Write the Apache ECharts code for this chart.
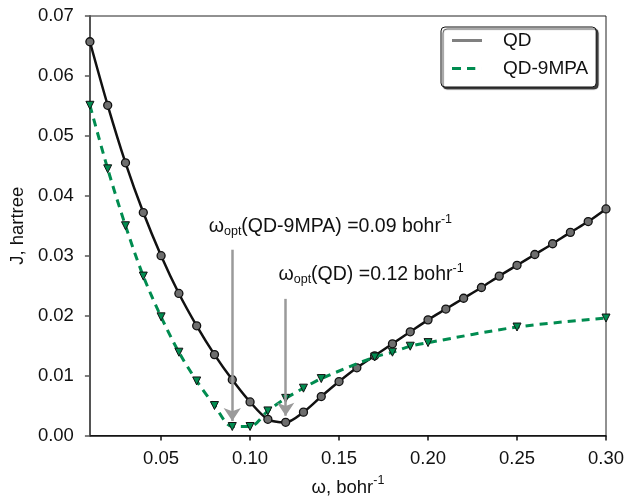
<!DOCTYPE html>
<html><head><meta charset="utf-8">
<script src="https://cdn.jsdelivr.net/npm/echarts@6/dist/echarts.min.js"></script>
<style>html,body{margin:0;padding:0;background:#fff}#c{width:629px;height:502px}</style>
</head><body><div id="c"></div>
<script>
// ---- data ----
const qdX = [0.01,0.02,0.03,0.04,0.05,0.06,0.07,0.08,0.09,0.10,0.11,0.12,0.13,0.14,0.15,0.16,0.17,0.18,0.19,0.20,0.21,0.22,0.23,0.24,0.25,0.26,0.27,0.28,0.29,0.30];
const qdY = [0.0657,0.0551,0.0455,0.0372,0.0300,0.0237,0.0183,0.0135,0.0093,0.0056,0.0027,0.0022,0.0039,0.0065,0.0090,0.0113,0.0133,0.0153,0.0173,0.0193,0.0211,0.0229,0.0247,0.0266,0.0284,0.0302,0.0320,0.0339,0.0357,0.0378];
const mpaX = [0.01,0.02,0.03,0.04,0.05,0.06,0.07,0.08,0.09,0.10,0.11,0.12,0.13,0.14,0.17,0.18,0.19,0.20,0.25,0.30];
const mpaY = [0.0551,0.0445,0.0350,0.0266,0.0198,0.0139,0.0091,0.0050,0.0015,0.0015,0.0041,0.0062,0.0079,0.0095,0.0131,0.0139,0.0149,0.0155,0.0181,0.0196];
const seriesNames = ['QD','QD-9MPA'];
const xTicks = [0.05,0.10,0.15,0.20,0.25,0.30];
const arrowX = [0.09,0.12];
const arrowFrom = [0.0310,0.0228];
const arrowTo = [0.0024,0.0033];
const noteX = [0.0765,0.1157];
const noteY = [0.0349,0.0268];
const noteText = ['{w|ω}{sub|opt}{w|(QD-9MPA) =0.09 bohr}{sup|-1}','{w|ω}{sub|opt}{w|(QD) =0.12 bohr}{sup|-1}'];

// ---- chart ----
const FONT = '"Liberation Sans", Arial, sans-serif';
const GREEN = '#008C50';
const INK = '#111';
const pair = (xs, ys) => xs.map((x, i) => [x, ys[i]]);
const rich = (main) => ({
  w:{fontSize:main, fontFamily:FONT, color:INK},
  sub:{fontSize:12.5, fontFamily:FONT, color:INK, padding:[10,0,0,0]},
  sup:{fontSize:12.5, fontFamily:FONT, color:INK, padding:[0,0,13,0]}
});
const chart = echarts.init(document.getElementById('c'), null, {renderer:'canvas'});
chart.setOption({
  animation:false,
  textStyle:{fontFamily:FONT},
  grid:{left:88, right:23, top:16, bottom:62.5, show:true, borderColor:'#222', borderWidth:1, backgroundColor:'transparent'},
  legend:{
    orient:'vertical', left:441, top:27, selectedMode:false,
    padding:[4,8,9,11], itemGap:9, itemWidth:30, itemHeight:3,
    backgroundColor:'#fff', borderColor:INK, borderWidth:1, borderRadius:4,
    shadowColor:'rgba(0,0,0,0.75)', shadowBlur:1, shadowOffsetX:2, shadowOffsetY:2,
    textStyle:{fontSize:19, color:INK, fontFamily:FONT, padding:[0,0,0,16]},
    data:[
      {name:seriesNames[0], icon:'path://M0,0H30V3H0Z', itemStyle:{color:'#808080', borderWidth:0}},
      {name:seriesNames[1], icon:'path://M0,0H9V3H0Z M15,0H23.3V3H15Z M29.99,0H30V3H29.99Z', itemStyle:{color:GREEN, borderWidth:0}}
    ]
  },
  xAxis:{
    type:'value', min:0.01, max:0.30,
    name:'{w|ω, bohr}{sup|-1}', nameLocation:'middle', nameGap:39,
    nameTextStyle:{rich:rich(18.5)},
    axisLine:{show:true, lineStyle:{color:INK, width:1.5}},
    axisTick:{show:true, customValues:xTicks, length:5, inside:false, lineStyle:{color:INK, width:1.5}},
    axisLabel:{customValues:xTicks, formatter:v => v.toFixed(2), fontSize:18.5, color:INK, margin:14},
    splitLine:{show:false}
  },
  yAxis:{
    type:'value', min:0, max:0.07, interval:0.01,
    name:'J, hartree', nameLocation:'middle', nameGap:61,
    nameTextStyle:{fontSize:18.5, color:INK},
    axisLine:{show:true, lineStyle:{color:'#555', width:2}},
    axisTick:{show:true, length:5, lineStyle:{color:'#555', width:1.5}},
    axisLabel:{formatter:v => v.toFixed(2), fontSize:18.5, color:INK, margin:16},
    splitLine:{show:false}
  },
  series:[
    {
      name:seriesNames[0], type:'line', data:pair(qdX, qdY), smooth:0.3,
      symbol:'circle', symbolSize:8, showAllSymbol:true, z:3,
      lineStyle:{color:INK, width:2.5},
      itemStyle:{color:'#6e6e6e', borderColor:INK, borderWidth:1.3},
      markLine:{
        silent:true, symbol:['none','arrow'], symbolSize:13, label:{show:false},
        lineStyle:{color:'#9a9a9a', width:2.5, type:'solid'},
        itemStyle:{color:'#9a9a9a'},
        emphasis:{disabled:true},
        data:arrowX.map((x, i) => [{coord:[x, arrowFrom[i]]}, {coord:[x, arrowTo[i]]}])
      },
      markPoint:{
        silent:true, symbol:'rect', symbolSize:1, itemStyle:{color:'rgba(0,0,0,0)'},
        label:{show:true, position:'right', distance:0, formatter:p => p.name, rich:rich(19.5), color:INK},
        data:noteX.map((x, i) => ({coord:[x, noteY[i]], name:noteText[i]}))
      }
    },
    {
      name:seriesNames[1], type:'line', data:pair(mpaX, mpaY), smooth:0.3,
      symbol:'triangle', symbolRotate:180, symbolSize:8, showAllSymbol:true, z:4,
      lineStyle:{color:GREEN, width:3, type:[8,6]},
      itemStyle:{color:GREEN, borderColor:INK, borderWidth:1}
    }
  ]
});
</script></body></html>
